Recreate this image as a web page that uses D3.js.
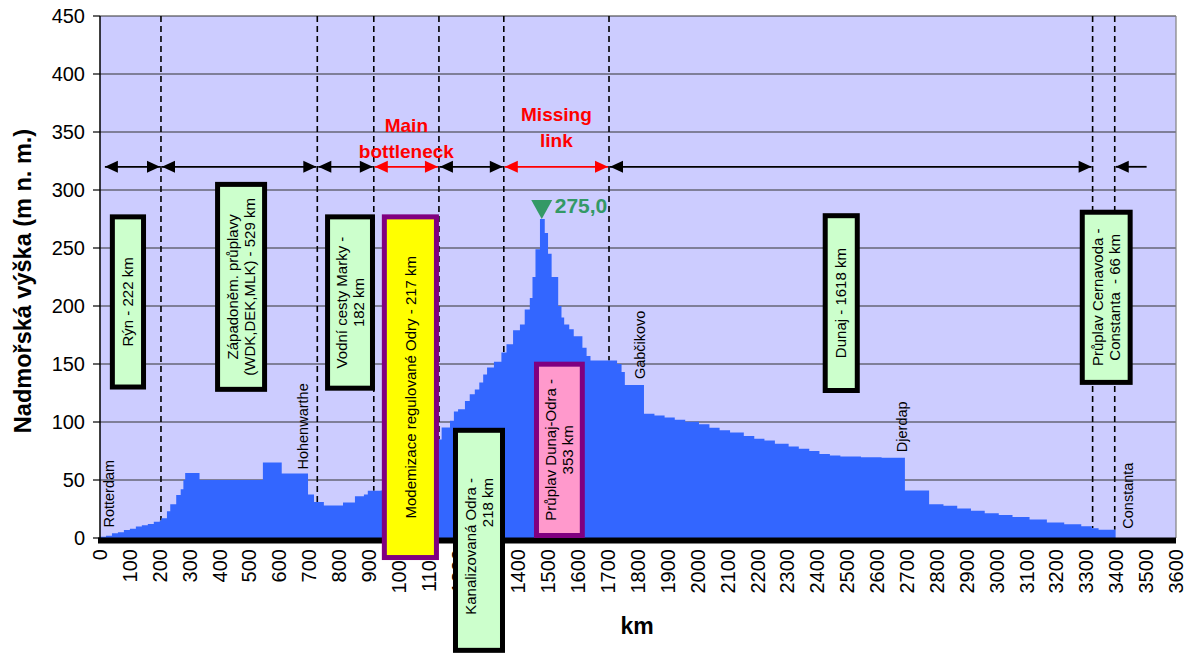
<!DOCTYPE html>
<html><head><meta charset="utf-8">
<script src="https://cdn.jsdelivr.net/npm/d3@7"></script>
<style>html,body{margin:0;padding:0;background:#fff}svg{display:block;font-family:"Liberation Sans",Arial,sans-serif}</style>
</head><body><svg id="c" width="1193" height="654"></svg>
<script>
// ---------- data ----------
const profileKm = [0,20,40,60,80,100,120,140,160,180,200,205,224,235,255,270,279,285,333,545,608,696,716,749,813,853,883,896,939,960,1000,1050,1100,1143,1171,1184,1198,1221,1237,1254,1269,1282,1295,1318,1343,1360,1382,1405,1421,1438,1447,1457,1472,1488,1499,1511,1533,1544,1553,1570,1585,1614,1628,1641,1717,1730,1745,1756,1820,1855,1889,1923,1958,2004,2039,2073,2108,2154,2189,2223,2258,2304,2338,2373,2407,2442,2477,2546,2615,2693,2774,2822,2868,2914,2960,3007,3053,3110,3168,3226,3283,3318,3341,3398];
const profileM  = [1,2,4,5,7,8,10,11,12,14,15,17,23,29,37,42,50,56,50,65,55.5,37.6,31,28,30.5,36,37.6,40.8,41,45,55,70,85,95.3,101,109,111,118,124,128,134,141,147,152,160,167,179,184,197,207,225,249,275,263,245,225,200,190,184,180,174,164,157,153,153,150,143,132,107.2,105.5,103.8,102,100.3,98,95.1,92.8,91,87.9,85.5,84.1,81.2,78.9,76.9,74.9,72.5,71.1,70.2,69.7,69.1,41,29.2,27.7,25.5,23.4,21.4,19.9,18.2,15.9,13.3,11.8,10.1,8.4,7.2,7.2];
const yTickValues = [0,50,100,150,200,250,300,350,400,450];
const xTickValues = [0,100,200,300,400,500,600,700,800,900,1000,1100,1200,1300,1400,1500,1600,1700,1800,1900,2000,2100,2200,2300,2400,2500,2600,2700,2800,2900,3000,3100,3200,3300,3400,3500,3600];
const sectionBoundsKm = [204,727,916,1134,1351,1703,3321,3395];
const arrowFromKm = [13,204,727,916,1134,1351,1703,3395];
const arrowToKm   = [204,727,916,1134,1351,1703,3321,3505];
const arrowKind   = ["both","both","both","red","both","red","both","left"];
const arrowLevelM = 320;
const peakKm = 1478, peakM = 275.0;
const placeNames = ["Rotterdam","Hohenwarthe","Gabčikovo","Djerdap","Constanta"];
const placeKm    = [30,679,1806,2682,3440];
const placeM     = [9,59,137,74,8];
const waterwayLines = [["Rýn - 222 km"],["Západoněm. průplavy","(WDK,DEK,MLK) - 529 km"],["Vodní cesty Marky -","182 km"],["Modemizace regulované Odry - 217 km"],["Kanalizovaná Odra -","218 km"],["Průplav Dunaj-Odra -","353 km"],["Dunaj - 1618 km"],["Průplav Cernavoda -","Constanta  - 66 km"]];
const waterwayKm0 = [33,385,753,943,1181,1452,2418,3278];
const waterwayKm1 = [154,559,920,1134,1355,1622,2542,3455];
const waterwayTopM = [279,307,279,279,95,152,280,283];
const waterwayBotM = [128,126,127,-19,-99,0,125,132];
const waterwayType = ["plain","plain","plain","odra","plain","dunajodra","plain","plain"];
const redNotes = [["Main","bottleneck"],["Missing","link"]];
const redNoteKm = [1025,1527];

// ---------- layout ----------
const svg = d3.select("#c");
const x = d3.scaleLinear().domain([0,3600]).range([100,1176]);
const y = d3.scaleLinear().domain([0,450]).range([538,16]);
const F = '"Liberation Sans",Arial,sans-serif';

svg.append("rect").attr("x",x(0)).attr("y",y(450)).attr("width",x(3600)-x(0)).attr("height",y(0)-y(450)).attr("fill","#ccccff");
svg.append("g").selectAll("line").data(yTickValues.filter(d=>d>0)).join("line")
  .attr("x1",x(0)).attr("x2",x(3600)).attr("y1",d=>y(d)).attr("y2",d=>y(d))
  .attr("stroke","#333").attr("stroke-width",1.2);
svg.append("line").attr("x1",x(3600)).attr("x2",x(3600)).attr("y1",y(450)).attr("y2",y(0)).attr("stroke","#808080").attr("stroke-width",1.2);

const prof = profileKm.map((k,i)=>({k, m: profileM[i]}));
const bis = d3.bisector(d=>d.k).right;
const elevAt = k => { const i = Math.max(0, bis(prof,k)-1); return prof[Math.min(i,prof.length-1)].m; };
svg.append("g").selectAll("line").data(sectionBoundsKm).join("line")
  .attr("x1",d=>x(d)).attr("x2",d=>x(d)).attr("y1",y(450)).attr("y2",d=>y(elevAt(d)))
  .attr("stroke","#000").attr("stroke-width",1.6).attr("stroke-dasharray","6,4");

const area = d3.area().curve(d3.curveStepAfter).x(d=>x(d.k)).y0(y(0)).y1(d=>y(d.m));
svg.append("path").datum(prof).attr("d",area).attr("fill","#3366ff");

svg.append("line").attr("x1",x(0)).attr("x2",x(0)).attr("y1",y(450)).attr("y2",y(0)).attr("stroke","#000").attr("stroke-width",1.5);
svg.append("rect").attr("x",x(0)-2).attr("y",y(0)-0.5).attr("width",x(3600)-x(0)+2).attr("height",6).attr("fill","#000");
const ya = svg.append("g");
ya.selectAll("line").data(yTickValues).join("line").attr("x1",93).attr("x2",x(0)).attr("y1",d=>y(d)).attr("y2",d=>y(d)).attr("stroke","#000").attr("stroke-width",1.2);
ya.selectAll("text").data(yTickValues).join("text").attr("x",85).attr("y",d=>y(d)).attr("dy","0.35em")
  .attr("text-anchor","end").attr("font-size",20).attr("font-family",F).text(d=>d);
svg.append("g").selectAll("text").data(xTickValues).join("text")
  .attr("transform",d=>`translate(${x(d)},549) rotate(-90)`).attr("dy","0.35em")
  .attr("text-anchor","end").attr("font-size",20).attr("font-family",F).text(d=>d);
svg.append("text").attr("transform","translate(31,281) rotate(-90)").attr("text-anchor","middle")
  .attr("font-size",23.5).attr("font-weight","bold").attr("font-family",F).text("Nadmořská výška (m n. m.)");
svg.append("text").attr("x",637).attr("y",634).attr("text-anchor","middle")
  .attr("font-size",23).attr("font-weight","bold").attr("font-family",F).text("km");

const ag = svg.append("g");
const ay = y(arrowLevelM);
function head(xp, dir, col){
  const L=13,h=6;
  ag.append("path").attr("d",`M${xp},${ay} L${xp-dir*L},${ay-h} L${xp-dir*L},${ay+h} Z`).attr("fill",col);
}
arrowFromKm.forEach((a,i)=>{
  const col = arrowKind[i]==="red" ? "#ff0000" : "#000";
  const x1 = x(a)+1, x2 = x(arrowToKm[i])-1;
  ag.append("line").attr("x1",x1).attr("x2",x2).attr("y1",ay).attr("y2",ay).attr("stroke",col).attr("stroke-width",1.8);
  head(x1,-1,col);
  if(arrowKind[i]!=="left") head(x2,1,col);
});
redNotes.forEach((lines,i)=>{
  const t = svg.append("text").attr("text-anchor","middle").attr("font-size",19).attr("font-weight","bold").attr("fill","#ff0000").attr("font-family",F);
  const baseY = i===0 ? 132 : 121;
  lines.forEach((s,j)=> t.append("tspan").attr("x",x(redNoteKm[i])).attr("y",baseY+j*26).text(s));
});

const px = x(peakKm), py = y(peakM);
svg.append("path").attr("d",`M${px},${py} L${px-10.5},${py-19} L${px+10.5},${py-19} Z`).attr("fill","#339966");
svg.append("text").attr("x",px+13).attr("y",py-6).attr("font-size",21).attr("font-weight","bold").attr("fill","#339966").attr("font-family",F).text(peakM.toFixed(1).replace(".",","));

svg.append("g").selectAll("text").data(placeNames).join("text")
  .attr("transform",(d,i)=>`translate(${x(placeKm[i])},${y(placeM[i])}) rotate(-90)`).attr("dy","0.35em")
  .attr("font-size",14.5).attr("font-family",F).text(d=>d);

const fills = {plain:["#ccffcc","#000"], odra:["#ffff00","#800080"], dunajodra:["#ff99cc","#800080"]};
const textTopPx = [null,null,null,null,478,null,null,null];
waterwayLines.forEach((lines,i)=>{
  const x0 = x(waterwayKm0[i]), x1 = x(waterwayKm1[i]);
  const y0 = y(waterwayTopM[i]), y1 = y(waterwayBotM[i]);
  const [fc,sc] = fills[waterwayType[i]];
  svg.append("rect").attr("x",x0+2.5).attr("y",y0+2.5).attr("width",x1-x0-5).attr("height",y1-y0-5)
    .attr("fill",fc).attr("stroke",sc).attr("stroke-width",5);
  const cx=(x0+x1)/2, cy=(y0+y1)/2, lh=17;
  lines.forEach((s,j)=>{
    const top = textTopPx[i];
    svg.append("text").attr("transform",`translate(${cx+(j-(lines.length-1)/2)*lh},${top===null?cy:top}) rotate(-90)`)
      .attr("dy","0.35em").attr("text-anchor",top===null?"middle":"end").attr("font-size",15).attr("font-family",F).attr("xml:space","preserve").text(s);
  });
});
</script></body></html>
